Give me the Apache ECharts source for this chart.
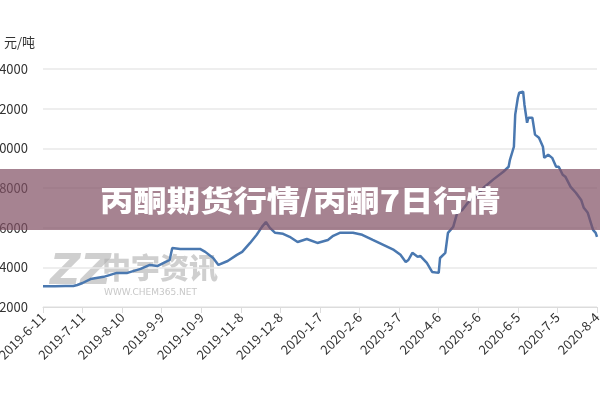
<!DOCTYPE html>
<html>
<head>
<meta charset="utf-8">
<script src="https://cdn.jsdelivr.net/npm/echarts@6/dist/echarts.min.js"></script>
<style>
  html, body { margin: 0; padding: 0; background: #fff; }
  #chart { width: 600px; height: 400px; }
</style>
</head>
<body>
<div id="chart"></div>
<script>
// 丙酮 price, 元/吨
const startDate = '2019-06-11'
const endDate = '2020-08-04'
const dates = [
  '2019-06-11', '2019-06-20', '2019-06-28', '2019-07-04', '2019-07-07', '2019-07-11',
  '2019-07-17', '2019-07-27', '2019-08-06', '2019-08-14', '2019-08-24', '2019-08-31',
  '2019-09-06', '2019-09-12', '2019-09-15', '2019-09-17', '2019-09-23', '2019-10-08',
  '2019-10-12', '2019-10-18', '2019-10-22', '2019-10-23', '2019-10-29', '2019-11-05',
  '2019-11-09', '2019-11-15', '2019-11-20', '2019-11-24', '2019-11-27', '2019-11-30',
  '2019-12-04', '2019-12-10', '2019-12-15', '2019-12-21', '2019-12-28', '2020-01-05',
  '2020-01-13', '2020-01-17', '2020-01-22', '2020-02-01', '2020-02-08', '2020-02-16',
  '2020-02-24', '2020-03-03', '2020-03-08', '2020-03-12', '2020-03-14', '2020-03-17',
  '2020-03-21', '2020-03-23', '2020-03-28', '2020-04-01', '2020-04-06', '2020-04-07',
  '2020-04-11', '2020-04-13', '2020-04-15', '2020-04-17', '2020-04-20', '2020-04-24',
  '2020-04-28', '2020-05-04', '2020-05-10', '2020-05-17', '2020-05-25', '2020-05-29',
  '2020-05-30', '2020-06-02', '2020-06-03', '2020-06-05', '2020-06-06', '2020-06-09',
  '2020-06-10', '2020-06-12', '2020-06-13', '2020-06-16', '2020-06-18', '2020-06-21',
  '2020-06-24', '2020-06-25', '2020-06-28', '2020-07-01', '2020-07-04', '2020-07-06',
  '2020-07-09', '2020-07-11', '2020-07-15', '2020-07-19', '2020-07-23', '2020-07-25',
  '2020-07-28', '2020-08-01', '2020-08-03', '2020-08-04'
]
const prices = [
  3040, 3040, 3060, 3060, 3110, 3210,
  3410, 3520, 3720, 3720, 3920, 4120,
  4070, 4270, 4370, 4980, 4930, 4930,
  4780, 4470, 4120, 4070, 4320, 4630,
  4780, 5230, 5640, 6040, 6290, 5990,
  5740, 5690, 5540, 5280, 5430, 5230,
  5380, 5590, 5740, 5740, 5640, 5380,
  5130, 4880, 4630, 4270, 4370, 4730,
  4530, 4580, 4220, 3770, 3720, 4470,
  4730, 5740, 5890, 6040, 6750, 6900,
  7250, 7560, 8010, 8410, 8820, 9070,
  9420, 10080, 11700, 12550, 12800, 12860,
  12200, 11290, 11540, 11540, 10690, 10530,
  10080, 9520, 9680, 9520, 9070, 9070,
  8670, 8570, 8060, 7760, 7400, 7000,
  6750, 5890, 5740, 5540
]
const yMin = 2000
const yMax = 14000
const yStep = 2000
const tickDays = 30

const DAY = 86400000
const t0 = Date.parse(startDate)
const dayIndex = (s) => Math.round((Date.parse(s) - t0) / DAY)
const fmtDate = (v) => {
  const d = new Date(t0 + v * DAY)
  return d.getUTCFullYear() + '-' + (d.getUTCMonth() + 1) + '-' + d.getUTCDate()
}

const chart = echarts.init(document.getElementById('chart'))
const font = '"Noto Sans CJK SC", "Noto Sans", sans-serif'

const option = {
  animation: false,
  textStyle: { fontFamily: font },
  grid: { left: 43, right: 3, top: 69, bottom: 93, containLabel: false, outerBoundsMode: 'none' },
  xAxis: {
    type: 'value',
    min: 0,
    max: dayIndex(endDate),
    interval: tickDays,
    axisLine: { lineStyle: { color: '#dcdcdc' } },
    axisTick: { show: true, length: 6, lineStyle: { color: '#dcdcdc' } },
    splitLine: { show: false },
    axisLabel: {
      rotate: 45,
      margin: 8,
      fontSize: 13,
      color: '#333',
      hideOverlap: false,
      formatter: fmtDate
    }
  },
  yAxis: {
    type: 'value',
    min: yMin,
    max: yMax,
    interval: yStep,
    name: '元/吨',
    nameLocation: 'end',
    nameGap: 20,
    nameTextStyle: { color: '#333', fontSize: 13, align: 'right', padding: [0, 8, 0, 0] },
    axisLine: { show: false },
    axisTick: { show: false },
    axisLabel: { margin: 15, fontSize: 13, color: '#333', formatter: (v) => String(v) },
    splitLine: { lineStyle: { color: '#e8e8e8', width: 1.5 } }
  },
  graphic: [
    // watermark
    {
      type: 'text', left: 50, top: 252, z: 0, silent: true,
      style: { text: 'ZZ', fill: 'rgba(175,175,175,0.6)', font: 'italic 900 42px "DejaVu Sans", sans-serif' }
    },
    {
      type: 'text', left: 102, top: 253, z: 0, silent: true,
      style: { text: '中宇资讯', fill: 'rgba(175,175,175,0.6)', font: '900 29px ' + font }
    },
    {
      type: 'text', left: 104, top: 288, z: 0, silent: true,
      style: { text: 'WWW.CHEM365.NET', fill: 'rgba(175,175,175,0.7)', font: '9px "DejaVu Sans", sans-serif' }
    },
    // banner
    {
      type: 'rect', left: 0, top: 169, z: 100, silent: true,
      shape: { width: 600, height: 61 },
      style: { fill: 'rgba(128,78,98,0.7)' }
    },
    {
      type: 'text', x: 300, y: 201, scaleX: 1.15, z: 101, silent: true,
      style: {
        text: '丙酮期货行情/丙酮7日行情', fill: '#fff',
        font: '900 29px ' + font, align: 'center', verticalAlign: 'middle'
      }
    }
  ],
  series: [
    {
      type: 'line',
      data: dates.map((d, i) => [dayIndex(d), prices[i]]),
      showSymbol: false,
      z: 5,
      lineStyle: { color: '#4a78b0', width: 2.5 },
      itemStyle: { color: '#4a78b0' }
    }
  ]
}

chart.setOption(option)
window.addEventListener('resize', () => chart.resize())
</script>
</body>
</html>
